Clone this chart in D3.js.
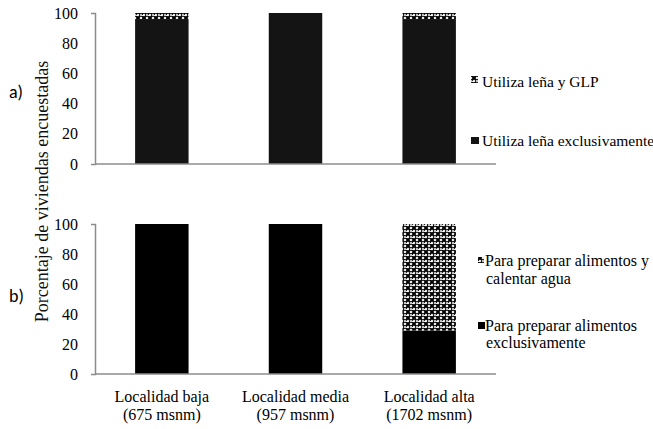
<!DOCTYPE html>
<html><head><meta charset="utf-8">
<script src="https://cdn.jsdelivr.net/npm/d3@7"></script>
<style>body{margin:0;background:#fff}svg{display:block}</style>
</head><body>
<svg id="c" width="653" height="429"></svg>
<script>
const categories = ["Localidad baja|(675 msnm)", "Localidad media|(957 msnm)", "Localidad alta|(1702 msnm)"];
const yTicks = [0, 20, 40, 60, 80, 100];
// Panel a
const aSeriesNames = ["Utiliza leña exclusivamente", "Utiliza leña y GLP"];
const aExclusive = [96, 100, 96];
const aMixed = [4, 0, 4];
// Panel b
const bSeriesNames = ["Para preparar alimentos|exclusivamente", "Para preparar alimentos y|calentar agua"];
const bExclusive = [100, 100, 29];
const bMixed = [0, 0, 71];

const svg = d3.select("#c");
const defs = svg.append("defs");
const pat = defs.append("pattern").attr("id","pt").attr("patternUnits","userSpaceOnUse")
  .attr("width",6).attr("height",6);
pat.append("rect").attr("width",6).attr("height",6).attr("fill","#fff");
pat.append("path").attr("d","M0,0L6,6M6,0L0,6M-1,5L1,7M5,-1L7,1").attr("stroke","#000").attr("stroke-width",2);
pat.append("circle").attr("cx",3).attr("cy",3).attr("r",1).attr("fill","#fff");

const x = d3.scaleBand().domain(categories).range([95, 496]).paddingInner(0.6).paddingOuter(0.3);
const serif = "Liberation Serif";
const sans = "Carlito";

function panel(top, bottom, excl, mixed, labelText, labelY) {
  const y = d3.scaleLinear().domain([0, 100]).range([bottom, top]);
  const g = svg.append("g");
  const data = categories.map((c, i) => ({c, e: excl[i], m: mixed[i]}));
  g.selectAll(".e").data(data).join("rect")
    .attr("x", d => x(d.c)).attr("width", x.bandwidth())
    .attr("y", d => y(d.e)).attr("height", d => y(0) - y(d.e))
    .attr("fill", labelText === "a)" ? "#141414" : "#000");
  g.selectAll(".m").data(data.filter(d => d.m > 0)).join("rect")
    .attr("x", d => x(d.c)).attr("width", x.bandwidth())
    .attr("y", d => y(d.e + d.m)).attr("height", d => y(d.e) - y(d.e + d.m))
    .attr("fill", "url(#pt)");
  const ax = g.append("g").attr("transform", "translate(95,0)")
    .call(d3.axisLeft(y).tickValues(yTicks).tickSize(0).tickSizeOuter(4).tickPadding(17));
  ax.attr("font-family", serif).attr("font-size", 16);
  ax.select(".domain").attr("stroke", "#8c8c8c").attr("stroke-width", 1.5);
  ax.selectAll("text").attr("font-family", serif).attr("font-size", 16).attr("fill", "#000");
  g.append("line").attr("x1", 95).attr("x2", 496).attr("y1", bottom).attr("y2", bottom)
    .attr("stroke", "#8c8c8c").attr("stroke-width", 1.5);
  svg.append("text").attr("x", 9).attr("y", labelY)
    .attr("font-family", sans).attr("font-size", 18).text(labelText);
  return y;
}

panel(13, 164, aExclusive, aMixed, "a)", 98);
panel(224, 374, bExclusive, bMixed, "b)", 302);

// x labels
const xl = svg.append("g").attr("font-family", serif).attr("font-size", 16);
categories.forEach(c => {
  const [l1, l2] = c.split("|");
  const cx = x(c) + x.bandwidth() / 2;
  xl.append("text").attr("x", cx).attr("y", 402).attr("text-anchor", "middle").text(l1);
  xl.append("text").attr("x", cx).attr("y", 420).attr("text-anchor", "middle").text(l2);
});

// y title
svg.append("text").attr("transform", "translate(48,191.5) rotate(-90)")
  .attr("text-anchor", "middle").attr("font-family", serif)
  .attr("font-size", 18).attr("fill", "#111").text("Porcentaje de viviendas encuestadas");

// legends
const lg = svg.append("g").attr("font-family", serif).attr("fill", "#000");
lg.append("rect").attr("x", 471).attr("y", 76).attr("width", 7).attr("height", 7).attr("fill", "url(#pt)");
lg.append("text").attr("x", 482).attr("y", 87).attr("font-size", 15.5).text(aSeriesNames[1]);
lg.append("rect").attr("x", 471).attr("y", 137).attr("width", 8).attr("height", 7).attr("fill", "#141414");
lg.append("text").attr("x", 482).attr("y", 146).attr("font-size", 15.5).text(aSeriesNames[0]);

lg.append("rect").attr("x", 478).attr("y", 257).attr("width", 6).attr("height", 6).attr("fill", "url(#pt)");
const b1 = bSeriesNames[1].split("|");
lg.append("text").attr("x", 485).attr("y", 266).attr("font-size", 16).text(b1[0]);
lg.append("text").attr("x", 486).attr("y", 284).attr("font-size", 16).text(b1[1]);
lg.append("rect").attr("x", 478).attr("y", 322).attr("width", 7).attr("height", 7).attr("fill", "#000");
const b0 = bSeriesNames[0].split("|");
lg.append("text").attr("x", 485).attr("y", 331).attr("font-size", 16).text(b0[0]);
lg.append("text").attr("x", 486).attr("y", 348).attr("font-size", 16).text(b0[1]);
</script>
</body></html>
